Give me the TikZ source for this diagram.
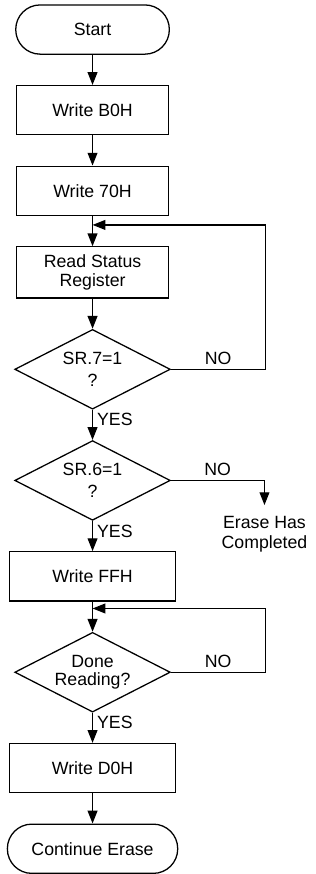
\documentclass[tikz,border=0pt]{standalone}
\usepackage{fontspec}
\setmainfont{Liberation Sans}
\usetikzlibrary{shapes.geometric, arrows.meta, positioning}

\begin{document}
\begin{tikzpicture}[
    node distance=15.3pt,
    line width=0.65pt,
    font=\fontsize{9}{9.5}\selectfont,
    box/.style={rectangle, draw, minimum width=77.5pt, minimum height=25pt,
                align=center, inner sep=1pt},
    term/.style={rectangle, draw, rounded corners=12.4pt,
                 minimum width=78pt, minimum height=25pt},
    decision/.style={diamond, draw, aspect=1.95, minimum width=79pt,
                     minimum height=40.5pt, inner sep=0pt, align=center},
    arrow/.style={-{Triangle[length=6.5pt, width=5pt]}},
    lbl/.style={inner sep=2pt}
]

% Main column
\node[term] (start) {Start};
\node[box, below=of start] (wb0) {Write B0H};
\node[box, below=of wb0] (w70) {Write 70H};
\node[box, below=of w70, minimum height=26pt] (rsr) {Read Status\\Register};
\node[decision, below=of rsr] (sr7) {SR.7=1\\[1.5pt]?};
\node[decision, below=of sr7] (sr6) {SR.6=1\\[1.5pt]?};
\node[box, below=of sr6, minimum width=84.5pt] (wff) {Write FFH};
\node[decision, below=of wff] (drd) {Done\\Reading?};
\node[box, below=of drd, minimum width=84.5pt] (wd0) {Write D0H};
\node[term, below=of wd0, minimum width=86.5pt] (cont) {Continue Erase};

% Exit on SR.6
\node[align=center, anchor=north, inner xsep=1pt, inner ysep=5.5pt] (erased)
    at ([xshift=47.5pt, yshift=-12.5pt]sr6.east) {Erase Has\\[0.5pt]Completed};

% Loop points
\coordinate (j1) at ([yshift=-4.5pt]w70.south);
\coordinate (r1) at ([xshift=48pt]sr7.east);
\coordinate (j2) at ([yshift=-3.5pt]wff.south);
\coordinate (r2) at ([xshift=48pt]drd.east);

% Flow
\draw[arrow] (start) -- (wb0);
\draw[arrow] (wb0) -- (w70);
\draw[arrow] (w70) -- (rsr);
\draw[arrow] (rsr) -- (sr7);
\draw[arrow] (sr7) -- node[lbl, right, pos=0.33] {YES} (sr6);
\draw[arrow] (sr6) -- node[lbl, right, pos=0.33] {YES} (wff);
\draw[arrow] (wff) -- (drd);
\draw[arrow] (drd) -- node[lbl, right, pos=0.33] {YES} (wd0);
\draw[arrow] (wd0) -- (cont);

% NO branches
\draw[arrow] (sr7.east) -- node[lbl, above] {NO} (r1) |- (j1);
\draw[arrow] (sr6.east) -| node[lbl, above, pos=0.25] {NO} (erased.north);
\draw[arrow] (drd.east) -- node[lbl, above] {NO} (r2) |- (j2);

\useasboundingbox (-47pt,15pt) rectangle (113pt,-422pt);
\end{tikzpicture}
\end{document}
